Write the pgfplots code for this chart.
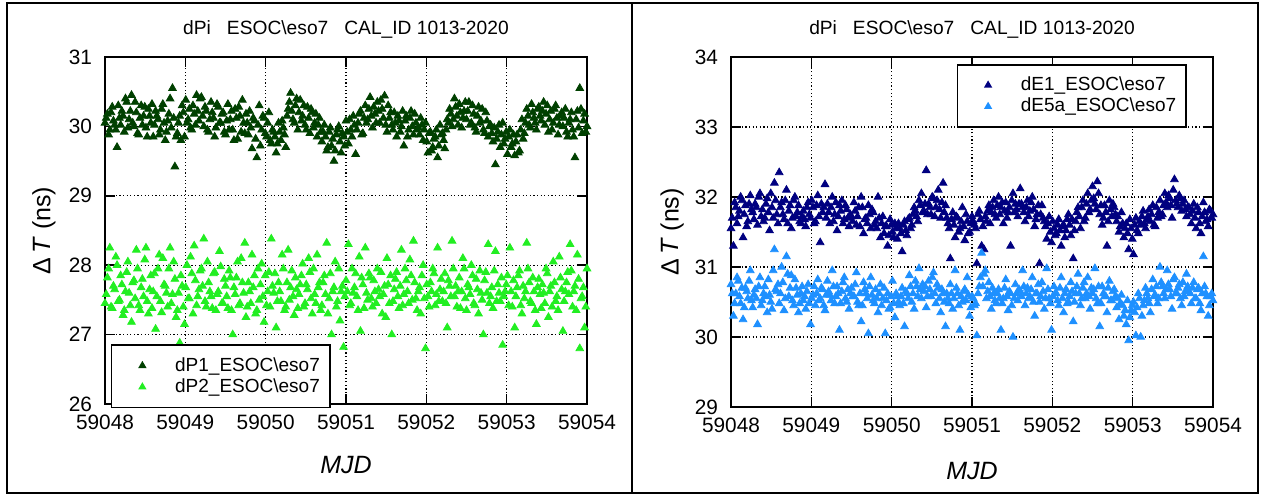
\documentclass[border=0pt]{standalone}
\usepackage{fontspec}
\setmainfont{Liberation Sans}
\usepackage{pgfplots}
\pgfplotsset{compat=1.18}

\definecolor{pone}{HTML}{004000}
\definecolor{ptwo}{HTML}{22EE22}
\definecolor{eone}{HTML}{000080}
\definecolor{efive}{HTML}{1E90FF}

% x = days after MJD 59048
\pgfplotsset{
  panel/.style={
    scale only axis, width=241pt,
    xmin=0, xmax=6, xtick={0,1,2,3,4,5,6},
    xticklabels={59048,59049,59050,59051,59052,59053,59054},
    tick align=inside, major tick length=5pt,
    tick style={black, line width=0.8pt},
    axis line style={line width=0.8pt},
    grid=major,
    grid style={black, line width=0.6pt, dash pattern=on 0.6pt off 1.2pt},
    /pgf/number format/assume math mode=true,
    ticklabel style={font=\fontsize{10.4}{12}\selectfont},
    xticklabel style={yshift=-1.75pt},
    yticklabel style={xshift=-3pt},
    title={dPi\ \ \ ESOC\textbackslash eso7\ \ \ CAL\_ID 1013-2020},
    title style={at={(axis description cs:0.5,1)}, anchor=base, yshift=5.5pt,
      font=\fontsize{9.6}{11}\selectfont},
    xlabel={\textit{MJD}},
    ylabel={Δ\,\textit{T} (ns)},
    label style={font=\fontsize{12.5}{14}\selectfont},
    every axis plot/.append style={only marks, mark=triangle*,
      mark size=2.2pt, mark options={draw=none}},
    legend style={draw=black, line width=0.8pt,
      font=\fontsize{9.5}{11}\selectfont,
      inner xsep=4pt, inner ysep=5pt, row sep=0.3pt,
      nodes={inner sep=1pt}, cells={anchor=west}},
    legend image code/.code={
      \path (0pt,0pt) (26pt,0pt);
      \draw[##1, mark size=1.6pt] plot coordinates {(11pt,0pt)};},
  },
}

\begin{document}
\begin{tikzpicture}
\useasboundingbox (0,0) rectangle (630.5pt,-247.5pt);
\draw[line width=1pt] (3.4pt,-1.4pt) rectangle (629pt,-246.6pt);
\draw[line width=1pt] (316pt,-1.4pt) -- (316pt,-246.6pt);

\begin{axis}[panel,
  at={(52.5pt,-202pt)}, anchor=south west, height=173.5pt,
  ymin=26, ymax=31, ytick={26,...,31},
  xlabel style={at={(axis description cs:0.5,0)}, anchor=base, yshift=-34.5pt},
  ylabel style={at={(axis description cs:-0.127,0.5)}, anchor=center},
  legend style={at={(axis description cs:0.012,-0.012)}, anchor=south west}]
\addplot[color=pone] coordinates {
(0.00,30.05)(0.03,30.18)(0.06,29.95)(0.09,30.28)(0.12,30.02)(0.15,29.70)(0.18,30.12)(0.21,30.22)(0.24,29.92)(0.27,30.35)
(0.30,30.10)(0.33,30.45)(0.36,30.00)(0.39,30.20)(0.42,29.88)(0.45,30.30)(0.48,30.15)(0.51,29.98)(0.54,30.25)(0.57,30.05)
(0.60,29.85)(0.63,30.22)(0.66,30.10)(0.69,29.95)(0.72,30.32)(0.75,29.80)(0.78,30.08)(0.81,30.40)(0.84,30.55)(0.87,29.42)
(0.90,29.90)(0.93,30.15)(0.96,30.30)(0.99,29.85)(1.02,30.05)(1.05,30.25)(1.08,29.95)(1.11,30.18)(1.14,30.45)(1.17,30.08)
(1.20,30.42)(1.23,30.00)(1.26,30.22)(1.29,29.92)(1.32,30.35)(1.35,30.12)(1.38,29.98)(1.41,30.28)(1.44,30.05)(1.47,30.20)
(1.50,29.88)(1.53,30.32)(1.56,30.10)(1.59,29.95)(1.62,30.25)(1.65,29.82)(1.68,30.15)(1.71,30.38)(1.74,29.90)(1.77,30.05)
(1.80,30.22)(1.83,29.68)(1.86,30.08)(1.89,29.55)(1.92,30.30)(1.95,29.95)(1.98,30.12)(2.01,29.85)(2.04,30.20)(2.07,29.75)
(2.10,29.92)(2.13,29.62)(2.16,30.05)(2.19,29.80)(2.22,29.98)(2.25,29.70)(2.28,30.25)(2.31,30.48)(2.34,30.10)(2.37,30.30)
(2.40,29.95)(2.43,30.38)(2.46,30.15)(2.49,30.02)(2.52,30.28)(2.55,29.90)(2.58,30.20)(2.61,30.05)(2.64,29.85)(2.67,30.12)
(2.70,29.78)(2.73,30.02)(2.76,29.65)(2.79,29.92)(2.82,29.72)(2.85,29.50)(2.88,29.88)(2.91,30.00)(2.94,29.62)(2.97,29.85)
(3.00,30.08)(3.03,29.75)(3.06,29.95)(3.09,30.15)(3.12,29.60)(3.15,30.05)(3.18,30.22)(3.21,29.90)(3.24,30.30)(3.27,30.10)
(3.30,30.42)(3.33,29.98)(3.36,30.18)(3.39,30.35)(3.42,30.05)(3.45,30.25)(3.48,30.44)(3.51,29.92)(3.54,30.12)(3.57,30.02)
(3.60,30.20)(3.63,29.85)(3.66,30.08)(3.69,30.00)(3.72,29.72)(3.75,30.15)(3.78,29.95)(3.81,30.22)(3.84,29.88)(3.87,30.05)
(3.90,29.98)(3.93,30.12)(3.96,29.80)(3.99,30.05)(4.02,29.62)(4.05,29.92)(4.08,29.70)(4.11,29.85)(4.14,29.55)(4.17,30.02)
(4.20,29.90)(4.23,29.68)(4.26,30.10)(4.29,30.25)(4.32,30.00)(4.35,30.40)(4.38,30.15)(4.41,30.32)(4.44,29.98)(4.47,30.22)
(4.50,30.10)(4.53,30.35)(4.56,30.05)(4.59,30.18)(4.62,29.92)(4.65,30.28)(4.68,30.08)(4.71,29.95)(4.74,30.20)(4.77,29.85)
(4.80,30.02)(4.83,29.78)(4.86,29.45)(4.89,29.92)(4.92,29.70)(4.95,30.05)(4.98,29.82)(5.01,29.60)(5.04,29.95)(5.07,29.75)
(5.10,29.58)(5.13,29.88)(5.16,29.65)(5.19,30.10)(5.22,29.90)(5.25,30.25)(5.28,30.02)(5.31,30.32)(5.34,30.12)(5.37,29.95)
(5.40,30.28)(5.43,30.08)(5.46,30.35)(5.49,30.18)(5.52,29.92)(5.55,30.22)(5.58,30.05)(5.61,30.30)(5.64,29.88)(5.67,30.15)
(5.70,30.00)(5.73,30.25)(5.76,29.85)(5.79,30.10)(5.82,29.95)(5.85,29.55)(5.88,30.22)(5.91,30.55)(5.94,29.90)(5.97,30.18)(6.00,30.00)
(0.015,30.12)(0.045,29.88)(0.075,30.20)(0.105,30.08)(0.135,29.95)(0.165,30.30)(0.195,30.02)(0.225,30.15)(0.255,30.40)(0.285,29.98)
(0.315,30.22)(0.345,30.05)(0.375,30.35)(0.405,29.90)(0.435,30.12)(0.465,30.02)(0.495,30.28)(0.525,29.85)(0.555,30.15)(0.585,30.32)
(0.615,30.02)(0.645,30.15)(0.675,29.88)(0.705,30.25)(0.735,30.05)(0.765,29.92)(0.795,30.18)(0.825,29.98)(0.855,30.12)(0.885,29.85)
(0.915,30.05)(0.945,29.80)(0.975,30.20)(1.005,30.38)(1.035,30.10)(1.065,29.98)(1.095,30.30)(1.125,30.02)(1.155,30.22)(1.185,30.40)
(1.215,30.15)(1.245,30.28)(1.275,29.95)(1.305,30.10)(1.335,30.20)(1.365,29.85)(1.395,30.32)(1.425,30.05)(1.455,30.18)(1.485,29.92)
(1.515,30.08)(1.545,29.95)(1.575,30.22)(1.605,29.80)(1.635,30.12)(1.665,30.28)(1.695,29.92)(1.725,30.05)(1.755,30.18)(1.785,29.88)
(1.815,29.98)(1.845,30.12)(1.875,29.82)(1.905,30.02)(1.935,29.72)(1.965,30.15)(1.995,29.90)(2.025,30.05)(2.055,29.80)(2.085,29.95)
(2.115,29.85)(2.145,29.75)(2.175,29.92)(2.205,30.08)(2.235,29.88)(2.265,30.15)(2.295,30.35)(2.325,30.22)(2.355,30.05)(2.385,30.40)
(2.415,30.20)(2.445,30.08)(2.475,30.30)(2.505,29.95)(2.535,30.12)(2.565,30.25)(2.595,29.98)(2.625,30.18)(2.655,30.02)(2.685,29.92)
(2.715,29.92)(2.745,29.85)(2.775,29.70)(2.805,29.98)(2.835,29.82)(2.865,29.65)(2.895,29.95)(2.925,29.78)(2.955,29.90)(2.985,29.72)
(3.015,29.92)(3.045,30.10)(3.075,29.85)(3.105,30.02)(3.135,29.95)(3.165,30.18)(3.195,29.88)(3.225,30.12)(3.255,30.05)(3.285,30.25)
(3.315,30.15)(3.345,30.28)(3.375,30.05)(3.405,30.22)(3.435,30.38)(3.465,30.12)(3.495,30.02)(3.525,30.30)(3.555,30.20)(3.585,29.95)
(3.615,30.05)(3.645,30.15)(3.675,29.92)(3.705,30.22)(3.735,30.08)(3.765,29.85)(3.795,30.12)(3.825,30.00)(3.855,30.18)(3.885,29.95)
(3.915,29.88)(3.945,30.02)(3.975,29.95)(4.005,29.78)(4.035,29.90)(4.065,29.65)(4.095,29.82)(4.125,29.95)(4.155,29.72)(4.185,29.88)
(4.215,29.80)(4.245,29.95)(4.275,30.05)(4.305,30.18)(4.335,30.10)(4.365,30.28)(4.395,30.02)(4.425,30.20)(4.455,30.12)(4.485,30.35)
(4.515,30.22)(4.545,30.02)(4.575,30.30)(4.605,29.98)(4.635,30.15)(4.665,30.05)(4.695,30.25)(4.725,29.90)(4.755,30.08)(4.785,30.00)
(4.815,29.90)(4.845,29.98)(4.875,29.82)(4.905,30.02)(4.935,29.88)(4.965,29.75)(4.995,29.92)(5.025,29.85)(5.055,29.70)(5.085,29.88)
(5.115,29.78)(5.145,29.62)(5.175,29.95)(5.205,29.82)(5.235,30.05)(5.265,30.15)(5.295,29.98)(5.325,30.20)(5.355,30.05)(5.385,30.25)
(5.415,30.15)(5.445,30.22)(5.475,30.02)(5.505,30.30)(5.535,30.10)(5.565,29.95)(5.595,30.25)(5.625,30.12)(5.655,30.02)(5.685,30.20)
(5.715,30.12)(5.745,29.92)(5.775,30.05)(5.805,30.20)(5.835,29.85)(5.865,30.10)(5.895,29.98)(5.925,30.25)(5.955,30.08)(5.985,29.92)
};
\addlegendentry{dP1\_ESOC\textbackslash eso7}
\addplot[color=ptwo] coordinates {
(0.00,27.45)(0.03,27.82)(0.06,28.25)(0.09,27.38)(0.12,27.65)(0.15,28.00)(0.18,27.50)(0.21,27.72)(0.24,27.35)(0.27,27.90)
(0.30,27.60)(0.33,27.18)(0.36,27.78)(0.39,28.22)(0.42,27.42)(0.45,27.68)(0.48,27.55)(0.51,28.25)(0.54,27.30)(0.57,27.85)
(0.60,27.62)(0.63,27.08)(0.66,27.95)(0.69,27.48)(0.72,28.10)(0.75,27.70)(0.78,27.40)(0.81,28.25)(0.84,27.58)(0.87,27.80)
(0.90,27.35)(0.93,26.88)(0.96,27.70)(0.99,27.15)(1.02,28.00)(1.05,27.52)(1.08,27.88)(1.11,28.28)(1.14,27.42)(1.17,27.65)
(1.20,27.95)(1.23,28.38)(1.26,27.40)(1.29,27.75)(1.32,27.55)(1.35,27.88)(1.38,27.35)(1.41,27.62)(1.44,27.98)(1.47,27.45)
(1.50,27.70)(1.53,27.38)(1.56,27.82)(1.59,27.00)(1.62,27.58)(1.65,28.05)(1.68,27.45)(1.71,27.75)(1.74,28.32)(1.77,27.40)
(1.80,27.62)(1.83,28.15)(1.86,27.85)(1.89,27.35)(1.92,27.50)(1.95,28.02)(1.98,27.18)(2.01,27.42)(2.04,27.90)(2.07,28.38)
(2.10,27.60)(2.13,27.10)(2.16,27.75)(2.19,27.48)(2.22,27.95)(2.25,27.40)(2.28,28.22)(2.31,27.68)(2.34,27.55)(2.37,27.82)
(2.40,27.38)(2.43,27.72)(2.46,28.02)(2.49,27.45)(2.52,27.65)(2.55,27.90)(2.58,27.30)(2.61,27.58)(2.64,28.15)(2.67,27.75)
(2.70,27.42)(2.73,27.85)(2.76,28.32)(2.79,27.52)(2.82,27.00)(2.85,27.68)(2.88,27.40)(2.91,27.95)(2.94,27.62)(2.97,26.82)
(3.00,27.78)(3.03,28.30)(3.06,27.45)(3.09,27.60)(3.12,27.88)(3.15,27.35)(3.18,27.05)(3.21,27.72)(3.24,28.25)(3.27,27.50)
(3.30,27.82)(3.33,27.40)(3.36,27.62)(3.39,27.95)(3.42,27.55)(3.45,27.30)(3.48,27.70)(3.51,28.10)(3.54,27.45)(3.57,27.00)
(3.60,27.65)(3.63,27.90)(3.66,27.38)(3.69,28.22)(3.72,27.58)(3.75,27.78)(3.78,27.45)(3.81,27.85)(3.84,28.35)(3.87,27.52)
(3.90,27.62)(3.93,27.30)(3.96,28.00)(3.99,26.80)(4.02,27.55)(4.05,27.75)(4.08,27.95)(4.11,27.42)(4.14,28.25)(4.17,27.65)
(4.20,27.48)(4.23,27.88)(4.26,27.10)(4.29,27.70)(4.32,28.35)(4.35,27.55)(4.38,27.40)(4.41,27.82)(4.44,27.62)(4.47,27.95)
(4.50,27.35)(4.53,27.68)(4.56,28.00)(4.59,27.45)(4.62,27.80)(4.65,27.30)(4.68,27.60)(4.71,27.00)(4.74,27.90)(4.77,28.30)
(4.80,27.55)(4.83,27.38)(4.86,28.20)(4.89,27.72)(4.92,27.48)(4.95,26.85)(4.98,27.62)(5.01,27.85)(5.04,28.25)(5.07,27.40)
(5.10,27.10)(5.13,27.68)(5.16,27.92)(5.19,27.30)(5.22,27.52)(5.25,28.32)(5.28,27.75)(5.31,27.45)(5.34,27.62)(5.37,27.15)
(5.40,27.80)(5.43,27.38)(5.46,27.60)(5.49,27.95)(5.52,27.25)(5.55,27.70)(5.58,28.05)(5.61,27.48)(5.64,27.35)(5.67,27.82)
(5.70,27.05)(5.73,27.62)(5.76,27.90)(5.79,28.30)(5.82,27.40)(5.85,27.70)(5.88,28.15)(5.91,26.80)(5.94,27.55)(5.97,27.10)(6.00,27.95)
(0.015,27.58)(0.045,27.95)(0.075,27.40)(0.105,27.70)(0.135,28.12)(0.165,27.48)(0.195,27.85)(0.225,27.28)(0.255,27.62)(0.285,28.05)
(0.315,27.42)(0.345,27.75)(0.375,27.52)(0.405,27.95)(0.435,27.35)(0.465,27.80)(0.495,28.08)(0.525,27.48)(0.555,27.65)(0.585,27.38)
(0.615,27.88)(0.645,27.55)(0.675,28.15)(0.705,27.32)(0.735,27.72)(0.765,27.60)(0.795,27.95)(0.825,27.45)(0.855,28.05)(0.885,27.25)
(0.915,27.60)(0.945,27.85)(0.975,27.40)(1.005,27.68)(1.035,27.52)(1.065,28.12)(1.095,27.30)(1.125,27.78)(1.155,27.55)(1.185,27.92)
(1.215,27.70)(1.245,27.48)(1.275,28.05)(1.305,27.62)(1.335,27.38)(1.365,27.90)(1.395,27.58)(1.425,28.20)(1.455,27.45)(1.485,27.80)
(1.515,27.55)(1.545,27.92)(1.575,27.35)(1.605,27.68)(1.635,27.82)(1.665,27.42)(1.695,28.10)(1.725,27.60)(1.755,27.25)(1.785,27.75)
(1.815,27.45)(1.845,27.68)(1.875,27.30)(1.905,27.95)(1.935,27.72)(1.965,27.55)(1.995,27.85)(2.025,27.62)(2.055,27.40)(2.085,27.70)
(2.115,27.88)(2.145,27.48)(2.175,27.62)(2.205,28.15)(2.235,27.35)(2.265,27.75)(2.295,27.50)(2.325,27.92)(2.355,27.28)(2.385,27.65)
(2.415,27.58)(2.445,27.85)(2.475,27.40)(2.505,27.72)(2.535,28.10)(2.565,27.52)(2.595,27.95)(2.625,27.45)(2.655,27.68)(2.685,27.35)
(2.715,27.75)(2.745,27.58)(2.775,27.30)(2.805,27.88)(2.835,27.62)(2.865,28.05)(2.895,27.48)(2.925,27.20)(2.955,27.70)(2.985,27.55)
(3.015,27.62)(3.045,27.42)(3.075,27.95)(3.105,27.68)(3.135,27.55)(3.165,28.12)(3.195,27.82)(3.225,27.38)(3.255,27.60)(3.285,27.88)
(3.315,27.52)(3.345,27.78)(3.375,27.45)(3.405,27.65)(3.435,27.90)(3.465,27.58)(3.495,27.25)(3.525,27.72)(3.555,27.85)(3.585,27.48)
(3.615,27.80)(3.645,27.55)(3.675,27.70)(3.705,27.42)(3.735,27.95)(3.765,27.62)(3.795,28.08)(3.825,27.50)(3.855,27.75)(3.885,27.35)
(3.915,27.68)(3.945,27.85)(3.975,27.52)(4.005,27.72)(4.035,27.40)(4.065,27.62)(4.095,27.88)(4.125,27.58)(4.155,27.48)(4.185,27.80)
(4.215,27.62)(4.245,27.45)(4.275,27.78)(4.305,27.55)(4.335,27.95)(4.365,27.70)(4.395,27.62)(4.425,27.38)(4.455,28.10)(4.485,27.52)
(4.515,27.72)(4.545,27.58)(4.575,27.85)(4.605,27.42)(4.635,27.65)(4.665,27.92)(4.695,27.50)(4.725,27.78)(4.755,27.60)(4.785,27.45)
(4.815,27.68)(4.845,27.92)(4.875,27.48)(4.905,27.60)(4.935,27.82)(4.965,27.55)(4.995,27.72)(5.025,27.42)(5.055,27.62)(5.085,27.78)
(5.115,27.55)(5.145,27.85)(5.175,27.42)(5.205,27.70)(5.235,27.62)(5.265,27.95)(5.295,27.48)(5.325,27.82)(5.355,27.35)(5.385,27.68)
(5.415,27.58)(5.445,27.72)(5.475,27.45)(5.505,27.88)(5.535,27.62)(5.565,27.40)(5.595,27.75)(5.625,27.55)(5.655,28.12)(5.685,27.65)
(5.715,27.48)(5.745,27.75)(5.775,27.58)(5.805,27.92)(5.835,27.62)(5.865,27.35)(5.895,27.80)(5.925,27.52)(5.955,27.68)(5.985,27.40)
};
\addlegendentry{dP2\_ESOC\textbackslash eso7}
\end{axis}

\begin{axis}[panel,
  at={(365.5pt,-203.5pt)}, anchor=south west, height=175pt,
  ymin=29, ymax=34, ytick={29,...,34},
  xlabel style={at={(axis description cs:0.5,0)}, anchor=base, yshift=-36pt},
  ylabel style={at={(axis description cs:-0.122,0.5)}, anchor=center},
  legend style={at={(axis description cs:0.946,0.98)}, anchor=north east}]
\addplot[color=eone] coordinates {
(0.00,31.55)(0.03,31.30)(0.06,31.85)(0.09,31.72)(0.12,32.00)(0.15,31.42)(0.18,31.88)(0.21,31.65)(0.24,32.02)(0.27,31.78)
(0.30,31.90)(0.33,31.60)(0.36,32.05)(0.39,31.82)(0.42,31.70)(0.45,31.98)(0.48,31.52)(0.51,31.85)(0.54,32.20)(0.57,31.75)
(0.60,32.35)(0.63,31.92)(0.66,31.68)(0.69,32.10)(0.72,31.80)(0.75,31.55)(0.78,31.95)(0.81,31.72)(0.84,31.88)(0.87,31.62)
(0.90,31.80)(0.93,31.58)(0.96,31.92)(0.99,31.70)(1.02,31.85)(1.05,31.65)(1.08,32.02)(1.11,31.35)(1.14,31.78)(1.17,32.18)
(1.20,31.90)(1.23,31.62)(1.26,32.00)(1.29,31.75)(1.32,31.52)(1.35,31.88)(1.38,31.95)(1.41,31.68)(1.44,31.82)(1.47,31.58)
(1.50,31.72)(1.53,31.92)(1.56,31.60)(1.59,31.85)(1.62,32.00)(1.65,31.48)(1.68,31.70)(1.71,31.88)(1.74,31.55)(1.77,31.78)
(1.80,31.65)(1.83,32.00)(1.86,31.42)(1.89,31.72)(1.92,31.58)(1.95,31.30)(1.98,31.68)(2.01,31.50)(2.04,31.62)(2.07,31.40)
(2.10,31.55)(2.13,31.22)(2.16,31.65)(2.19,31.45)(2.22,31.70)(2.25,31.60)(2.28,31.85)(2.31,31.72)(2.34,31.95)(2.37,32.05)
(2.40,31.80)(2.43,32.38)(2.46,31.90)(2.49,31.75)(2.52,31.98)(2.55,31.85)(2.58,32.10)(2.61,31.70)(2.64,32.20)(2.67,31.88)
(2.70,31.62)(2.73,31.12)(2.76,31.78)(2.79,31.42)(2.82,31.70)(2.85,31.55)(2.88,31.85)(2.91,31.38)(2.94,31.65)(2.97,31.50)
(3.00,31.72)(3.03,31.60)(3.06,31.05)(3.09,31.80)(3.12,31.30)(3.15,31.25)(3.18,31.65)(3.21,31.88)(3.24,31.78)(3.27,31.95)
(3.30,31.70)(3.33,32.00)(3.36,31.85)(3.39,31.62)(3.42,31.92)(3.45,31.78)(3.48,31.30)(3.51,32.05)(3.54,31.90)(3.57,31.72)
(3.60,32.12)(3.63,31.85)(3.66,31.65)(3.69,31.95)(3.72,31.80)(3.75,32.00)(3.78,31.58)(3.81,31.75)(3.84,31.05)(3.87,31.88)
(3.90,31.65)(3.93,31.40)(3.96,31.72)(3.99,31.35)(4.02,31.55)(4.05,31.48)(4.08,31.68)(4.11,31.30)(4.14,31.60)(4.17,31.52)
(4.20,31.75)(4.23,31.45)(4.26,31.12)(4.29,31.65)(4.32,31.85)(4.35,31.55)(4.38,31.95)(4.41,31.70)(4.44,32.05)(4.47,31.82)
(4.50,32.15)(4.53,31.90)(4.56,32.22)(4.59,31.75)(4.62,31.60)(4.65,31.88)(4.68,31.30)(4.71,31.95)(4.74,31.72)(4.77,31.85)
(4.80,31.65)(4.83,31.50)(4.86,31.78)(4.89,31.42)(4.92,31.62)(4.95,31.25)(4.98,31.55)(5.01,31.18)(5.04,31.70)(5.07,31.48)
(5.10,31.60)(5.13,31.80)(5.16,31.55)(5.19,31.72)(5.22,31.65)(5.25,31.88)(5.28,31.58)(5.31,31.70)(5.34,31.95)(5.37,31.75)
(5.40,32.05)(5.43,31.85)(5.46,31.98)(5.49,31.70)(5.52,32.25)(5.55,31.90)(5.58,32.02)(5.61,31.80)(5.64,31.95)(5.67,31.72)
(5.70,31.85)(5.73,31.62)(5.76,31.90)(5.79,31.55)(5.82,31.78)(5.85,31.48)(5.88,31.92)(5.91,31.65)(5.94,31.58)(5.97,31.80)(6.00,31.75)
(0.015,31.70)(0.045,31.92)(0.075,31.62)(0.105,31.80)(0.135,31.95)(0.165,31.75)(0.195,31.58)(0.225,31.90)(0.255,31.82)(0.285,31.68)
(0.315,31.85)(0.345,32.00)(0.375,31.72)(0.405,31.65)(0.435,31.90)(0.465,31.78)(0.495,32.05)(0.525,31.70)(0.555,31.95)(0.585,31.62)
(0.615,31.85)(0.645,31.75)(0.675,31.95)(0.705,31.62)(0.735,31.88)(0.765,31.70)(0.795,32.00)(0.825,31.78)(0.855,31.65)(0.885,31.72)
(0.915,31.68)(0.945,31.85)(0.975,31.75)(1.005,31.95)(1.035,31.62)(1.065,31.88)(1.095,31.72)(1.125,31.90)(1.155,31.85)(1.185,31.70)
(1.215,31.78)(1.245,31.85)(1.275,31.65)(1.305,31.92)(1.335,31.72)(1.365,31.80)(1.395,31.62)(1.425,31.88)(1.455,31.70)(1.485,31.75)
(1.515,31.65)(1.545,31.80)(1.575,31.72)(1.605,31.58)(1.635,31.85)(1.665,31.68)(1.695,31.62)(1.725,31.75)(1.755,31.82)(1.785,31.60)
(1.815,31.55)(1.845,31.70)(1.875,31.62)(1.905,31.48)(1.935,31.58)(1.965,31.45)(1.995,31.60)(2.025,31.42)(2.055,31.55)(2.085,31.62)
(2.115,31.48)(2.145,31.60)(2.175,31.52)(2.205,31.68)(2.235,31.55)(2.265,31.75)(2.295,31.80)(2.325,31.65)(2.355,31.88)(2.385,31.78)
(2.415,31.90)(2.445,31.75)(2.475,31.85)(2.505,32.00)(2.535,31.72)(2.565,31.95)(2.595,31.82)(2.625,31.92)(2.655,31.78)(2.685,31.70)
(2.715,31.55)(2.745,31.68)(2.775,31.60)(2.805,31.72)(2.835,31.50)(2.865,31.65)(2.895,31.58)(2.925,31.75)(2.955,31.48)(2.985,31.62)
(3.015,31.65)(3.045,31.55)(3.075,31.75)(3.105,31.68)(3.135,31.58)(3.165,31.72)(3.195,31.80)(3.225,31.62)(3.255,31.85)(3.285,31.75)
(3.315,31.88)(3.345,31.75)(3.375,31.92)(3.405,31.80)(3.435,31.70)(3.465,31.85)(3.495,31.95)(3.525,31.78)(3.555,31.82)(3.585,31.90)
(3.615,31.90)(3.645,31.78)(3.675,31.85)(3.705,31.72)(3.735,31.92)(3.765,31.82)(3.795,31.68)(3.825,31.88)(3.855,31.75)(3.885,31.70)
(3.915,31.58)(3.945,31.62)(3.975,31.50)(4.005,31.65)(4.035,31.45)(4.065,31.60)(4.095,31.52)(4.125,31.58)(4.155,31.42)(4.185,31.68)
(4.215,31.60)(4.245,31.68)(4.275,31.52)(4.305,31.78)(4.335,31.72)(4.365,31.85)(4.395,31.65)(4.425,31.90)(4.455,31.78)(4.485,31.95)
(4.515,31.98)(4.545,31.82)(4.575,32.05)(4.605,31.88)(4.635,31.70)(4.665,31.78)(4.695,31.65)(4.725,31.82)(4.755,31.90)(4.785,31.75)
(4.815,31.72)(4.845,31.58)(4.875,31.62)(4.905,31.55)(4.935,31.48)(4.965,31.68)(4.995,31.40)(5.025,31.60)(5.055,31.52)(5.085,31.65)
(5.115,31.72)(5.145,31.62)(5.175,31.68)(5.205,31.82)(5.235,31.75)(5.265,31.60)(5.295,31.85)(5.325,31.78)(5.355,31.72)(5.385,31.88)
(5.415,31.92)(5.445,32.02)(5.475,31.88)(5.505,32.10)(5.535,31.95)(5.565,31.85)(5.595,31.98)(5.625,31.90)(5.655,31.82)(5.685,31.85)
(5.715,31.75)(5.745,31.80)(5.775,31.70)(5.805,31.85)(5.835,31.62)(5.865,31.72)(5.895,31.78)(5.925,31.68)(5.955,31.82)(5.985,31.70)
};
\addlegendentry{dE1\_ESOC\textbackslash eso7}
\addplot[color=efive] coordinates {
(0.00,30.75)(0.03,30.30)(0.06,30.62)(0.09,30.80)(0.12,30.48)(0.15,30.25)(0.18,30.70)(0.21,30.55)(0.24,30.95)(0.27,30.42)
(0.30,30.68)(0.33,30.18)(0.36,30.85)(0.39,30.52)(0.42,30.72)(0.45,30.35)(0.48,30.60)(0.51,30.40)(0.54,31.25)(0.57,30.65)
(0.60,30.48)(0.63,31.00)(0.66,30.38)(0.69,31.15)(0.72,30.58)(0.75,30.88)(0.78,30.45)(0.81,30.70)(0.84,30.35)(0.87,30.62)
(0.90,30.52)(0.93,30.40)(0.96,30.75)(0.99,30.18)(1.02,30.60)(1.05,30.45)(1.08,30.82)(1.11,30.55)(1.14,30.68)(1.17,30.38)
(1.20,30.80)(1.23,30.60)(1.26,30.95)(1.29,30.48)(1.32,30.72)(1.35,30.10)(1.38,30.65)(1.41,30.85)(1.44,30.50)(1.47,30.40)
(1.50,30.70)(1.53,30.58)(1.56,30.92)(1.59,30.45)(1.62,30.22)(1.65,30.78)(1.68,30.62)(1.71,30.05)(1.74,30.85)(1.77,30.52)
(1.80,30.68)(1.83,30.35)(1.86,30.75)(1.89,30.55)(1.92,30.05)(1.95,30.62)(1.98,30.42)(2.01,30.80)(2.04,30.28)(2.07,30.58)
(2.10,30.45)(2.13,30.70)(2.16,30.15)(2.19,30.62)(2.22,30.88)(2.25,30.50)(2.28,30.40)(2.31,30.72)(2.34,30.98)(2.37,30.55)
(2.40,30.65)(2.43,30.42)(2.46,30.80)(2.49,30.58)(2.52,30.92)(2.55,30.48)(2.58,30.70)(2.61,30.35)(2.64,30.62)(2.67,30.15)
(2.70,30.55)(2.73,30.75)(2.76,30.40)(2.79,30.95)(2.82,30.62)(2.85,30.10)(2.88,30.50)(2.91,30.68)(2.94,30.85)(2.97,30.30)
(3.00,30.58)(3.03,30.45)(3.06,30.02)(3.09,30.72)(3.12,31.20)(3.15,30.90)(3.18,30.55)(3.21,30.78)(3.24,30.40)(3.27,30.62)
(3.30,30.48)(3.33,30.68)(3.36,30.10)(3.39,30.55)(3.42,30.82)(3.45,30.38)(3.48,30.62)(3.51,30.00)(3.54,30.75)(3.57,30.52)
(3.60,30.65)(3.63,30.95)(3.66,30.45)(3.69,30.70)(3.72,30.58)(3.75,30.85)(3.78,30.30)(3.81,30.62)(3.84,30.50)(3.87,30.78)
(3.90,30.40)(3.93,30.98)(3.96,30.55)(3.99,30.10)(4.02,30.72)(4.05,30.62)(4.08,30.45)(4.11,30.85)(4.14,30.35)(4.17,30.68)
(4.20,30.50)(4.23,30.78)(4.26,30.22)(4.29,30.62)(4.32,30.90)(4.35,30.45)(4.38,30.70)(4.41,30.55)(4.44,30.85)(4.47,30.40)
(4.50,30.62)(4.53,30.98)(4.56,30.48)(4.59,30.15)(4.62,30.72)(4.65,30.58)(4.68,30.35)(4.71,30.80)(4.74,30.52)(4.77,30.68)
(4.80,30.42)(4.83,30.25)(4.86,30.60)(4.89,30.30)(4.92,30.18)(4.95,29.95)(4.98,30.38)(5.01,30.50)(5.04,30.02)(5.07,30.62)
(5.10,30.00)(5.13,30.45)(5.16,30.70)(5.19,30.55)(5.22,30.35)(5.25,30.82)(5.28,30.60)(5.31,30.48)(5.34,31.00)(5.37,30.72)
(5.40,30.55)(5.43,30.95)(5.46,30.68)(5.49,30.40)(5.52,30.85)(5.55,30.62)(5.58,30.75)(5.61,30.45)(5.64,30.58)(5.67,30.90)
(5.70,30.65)(5.73,30.48)(5.76,30.78)(5.79,30.55)(5.82,30.70)(5.85,30.38)(5.88,31.15)(5.91,30.62)(5.94,30.30)(5.97,30.58)(6.00,30.52)
(0.015,30.62)(0.045,30.48)(0.075,30.85)(0.105,30.58)(0.135,30.70)(0.165,30.42)(0.195,30.65)(0.225,30.80)(0.255,30.52)(0.285,30.60)
(0.315,30.55)(0.345,30.72)(0.375,30.45)(0.405,30.62)(0.435,30.58)(0.465,30.82)(0.495,30.50)(0.525,30.95)(0.555,30.68)(0.585,30.75)
(0.615,30.62)(0.645,30.78)(0.675,30.55)(0.705,30.90)(0.735,30.70)(0.765,30.52)(0.795,30.82)(0.825,30.60)(0.855,30.48)(0.885,30.72)
(0.915,30.58)(0.945,30.65)(0.975,30.48)(1.005,30.55)(1.035,30.72)(1.065,30.62)(1.095,30.52)(1.125,30.70)(1.155,30.45)(1.185,30.60)
(1.215,30.65)(1.245,30.52)(1.275,30.72)(1.305,30.58)(1.335,30.62)(1.365,30.48)(1.395,30.78)(1.425,30.55)(1.455,30.68)(1.485,30.62)
(1.515,30.58)(1.545,30.75)(1.575,30.50)(1.605,30.62)(1.635,30.45)(1.665,30.68)(1.695,30.55)(1.725,30.72)(1.755,30.60)(1.785,30.48)
(1.815,30.55)(1.845,30.62)(1.875,30.45)(1.905,30.70)(1.935,30.52)(1.965,30.40)(1.995,30.58)(2.025,30.48)(2.055,30.62)(2.085,30.50)
(2.115,30.58)(2.145,30.48)(2.175,30.65)(2.205,30.55)(2.235,30.72)(2.265,30.62)(2.295,30.80)(2.325,30.58)(2.355,30.68)(2.385,30.75)
(2.415,30.72)(2.445,30.58)(2.475,30.68)(2.505,30.85)(2.535,30.62)(2.565,30.75)(2.595,30.55)(2.625,30.68)(2.655,30.50)(2.685,30.62)
(2.715,30.48)(2.745,30.62)(2.775,30.55)(2.805,30.70)(2.835,30.45)(2.865,30.58)(2.895,30.65)(2.925,30.52)(2.955,30.60)(2.985,30.42)
(3.015,30.55)(3.045,30.48)(3.075,30.62)(3.105,30.85)(3.135,30.72)(3.165,30.95)(3.195,30.65)(3.225,30.58)(3.255,30.70)(3.285,30.52)
(3.315,30.62)(3.345,30.55)(3.375,30.48)(3.405,30.70)(3.435,30.58)(3.465,30.65)(3.495,30.45)(3.525,30.55)(3.555,30.62)(3.585,30.68)
(3.615,30.58)(3.645,30.72)(3.675,30.62)(3.705,30.55)(3.735,30.68)(3.765,30.50)(3.795,30.62)(3.825,30.75)(3.855,30.58)(3.885,30.65)
(3.915,30.55)(3.945,30.68)(3.975,30.48)(4.005,30.58)(4.035,30.62)(4.065,30.52)(4.095,30.70)(4.125,30.55)(4.155,30.62)(4.185,30.48)
(4.215,30.58)(4.245,30.65)(4.275,30.50)(4.305,30.72)(4.335,30.62)(4.365,30.55)(4.395,30.78)(4.425,30.62)(4.455,30.58)(4.485,30.70)
(4.515,30.68)(4.545,30.55)(4.575,30.72)(4.605,30.48)(4.635,30.62)(4.665,30.58)(4.695,30.70)(4.725,30.52)(4.755,30.65)(4.785,30.58)
(4.815,30.55)(4.845,30.48)(4.875,30.45)(4.905,30.38)(4.935,30.52)(4.965,30.28)(4.995,30.45)(5.025,30.35)(5.055,30.42)(5.085,30.55)
(5.115,30.30)(5.145,30.52)(5.175,30.62)(5.205,30.48)(5.235,30.68)(5.265,30.58)(5.295,30.72)(5.325,30.55)(5.355,30.78)(5.385,30.62)
(5.415,30.68)(5.445,30.75)(5.475,30.58)(5.505,30.82)(5.535,30.62)(5.565,30.70)(5.595,30.55)(5.625,30.78)(5.655,30.65)(5.685,30.72)
(5.715,30.62)(5.745,30.70)(5.775,30.55)(5.805,30.68)(5.835,30.48)(5.865,30.62)(5.895,30.72)(5.925,30.58)(5.955,30.45)(5.985,30.62)
};
\addlegendentry{dE5a\_ESOC\textbackslash eso7}
\end{axis}
\end{tikzpicture}
\end{document}
